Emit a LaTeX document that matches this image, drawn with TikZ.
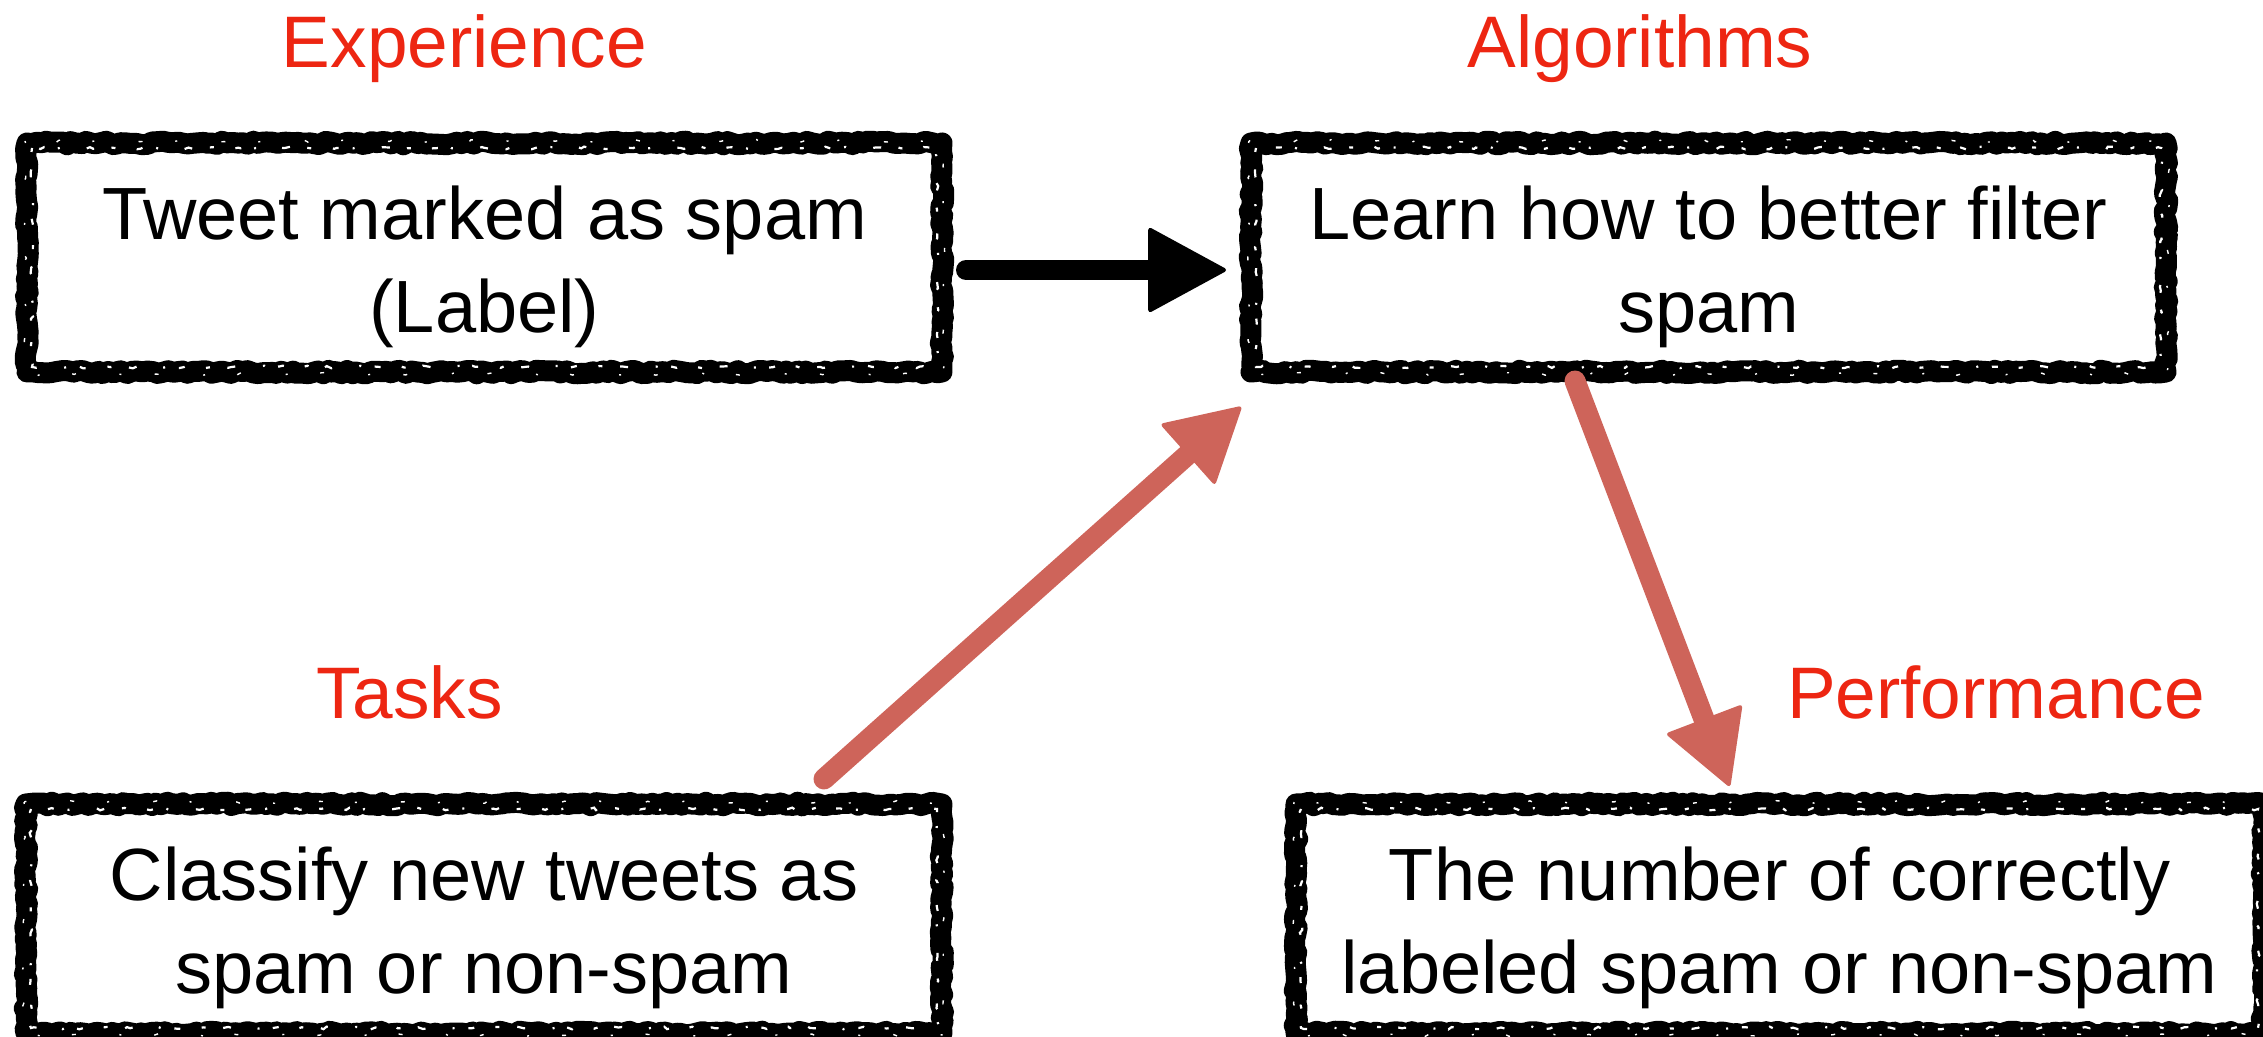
\documentclass[tikz,border=0pt]{standalone}
\usepackage{fontspec}
\setmainfont{Liberation Sans}
\usetikzlibrary{arrows.meta,calc,decorations.pathmorphing}
\definecolor{tagred}{RGB}{237,38,18}
\definecolor{linkred}{RGB}{206,100,90}
\begin{document}
\begin{tikzpicture}[x=0.5pt,y=-0.5pt,
  frame/.style={draw=black, line width=10.5pt, line join=round, inner sep=0pt, outer sep=0pt,
    minimum height=114.5pt, decorate,
    decoration={random steps, segment length=2.5pt, amplitude=0.9pt}},
  speckle/.style={draw=white, line width=1.1pt,
    dash pattern=on 2pt off 9pt on 4pt off 14pt on 1pt off 7pt on 3pt off 11pt,
    decorate, decoration={random steps, segment length=2pt, amplitude=0.7pt}},
  boxtext/.style={align=center, inner sep=0pt, yshift=-4.75pt,
    font=\fontsize{37pt}{46.5pt}\selectfont},
  tag/.style={text=tagred, anchor=base, inner sep=0pt,
    font=\fontsize{36.5pt}{44pt}\selectfont},
  blackarrow/.style={draw=black, line width=10pt, line cap=round,
    -{Triangle[length=40pt,width=43pt,round,line width=2pt]}},
  redarrow/.style={draw=linkred, line width=10.5pt, line cap=round,
    -{Triangle[length=37pt,width=41pt,round,line width=2pt]}},
]
\pgfmathsetseed{11}
\useasboundingbox (0,0) rectangle (2263,1037);
\clip (0,0) rectangle (2263,1037);

% headings
\node[tag] (hexp)  at (464.5,68)  {Experience};
\node[tag] (halg)  at (1640,68)   {Algorithms};
\node[tag] (htask) at (409.5,718) {Tasks};
\node[tag] (hperf) at (1996,718)  {Performance};

% framed boxes
\node[frame, minimum width=457.5pt] (b1) at (484.5,257.5) {};
\node[frame, minimum width=457.5pt] (b2) at (1708.5,257.5) {};
\node[frame, minimum width=458pt]   (b3) at (484,918.5) {};
\node[frame, minimum width=483.5pt] (b4) at (1779.5,918.5) {};

% worn streaks along the inner side of the thick frames
\foreach \b in {b1,b2,b3,b4}{
  \draw[speckle] ($(\b.north west)+(5,5)$) rectangle ($(\b.south east)+(-5,-5)$);
  \draw[speckle, line width=0.7pt, dash pattern=on 1pt off 17pt on 2pt off 23pt]
    ($(\b.north west)+(-2,-2)$) rectangle ($(\b.south east)+(2,2)$);
}

% box texts
\node[boxtext] (t1) at (b1) {Tweet marked as spam\\(Label)};
\node[boxtext] (t2) at (b2) {Learn how to better filter\\spam};
\node[boxtext] (t3) at (b3) {Classify new tweets as\\spam or non-spam};
\node[boxtext] (t4) at (b4) {The number of correctly\\labeled spam or non-spam};

% connector end points
\coordinate (a1s) at ($(b1.east)+(24,12.5)$);
\coordinate (a1e) at ($(b2.west)+(-25,12.5)$);
\coordinate (a2s) at ($(b3.north east)+(-118,-25)$);
\coordinate (a2e) at ($(b2.south west)+(-10,35)$);
\coordinate (a3s) at ($(b2.south)+(-133.5,9)$);
\coordinate (a3e) at ($(b4.north)+(-50,-18)$);

% connectors
\draw[blackarrow] (a1s) -- (a1e);
\draw[redarrow] (a2s) -- (a2e);
\draw[redarrow] (a3s) -- (a3e);
\end{tikzpicture}
\end{document}
